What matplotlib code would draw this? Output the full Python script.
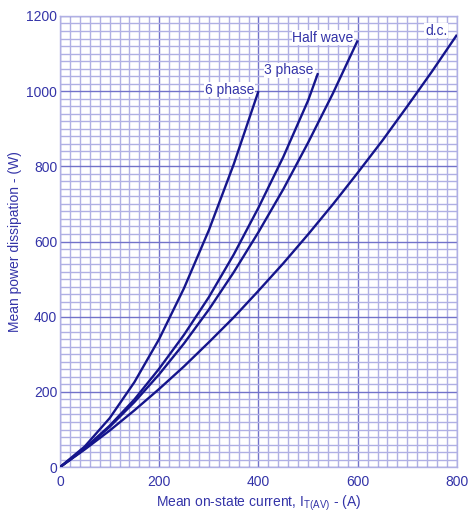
import numpy as np
import matplotlib
matplotlib.use("Agg")
import matplotlib.pyplot as plt
from matplotlib.ticker import MultipleLocator

plt.rcParams['font.family'] = ['Liberation Sans', 'DejaVu Sans']
plt.rcParams['mathtext.default'] = 'regular'

# values (current in A, power in W)
i_dc = [0, 50, 100, 150, 200, 250, 300, 350, 400, 450, 500, 550, 600, 650, 700, 750, 800]
p_dc = [0, 47, 97, 151, 208, 268, 332, 398, 469, 542, 619, 699, 783, 869, 960, 1053, 1150]

i_half = [0, 50, 100, 150, 200, 250, 300, 350, 400, 450, 500, 550, 600]
p_half = [0, 49, 107, 173, 247, 329, 419, 518, 625, 739, 863, 994, 1135]

i_3ph = [0, 50, 100, 150, 200, 250, 300, 350, 400, 450, 500, 520]
p_3ph = [0, 50, 110, 180, 262, 352, 452, 565, 690, 825, 975, 1048]

i_6ph = [0, 50, 100, 150, 200, 250, 300, 350, 400]
p_6ph = [0, 55, 130, 226, 341, 476, 630, 805, 1000]

labels = ["d.c.", "Half wave", "3 phase", "6 phase"]

line_col = '#15158c'
text_col = '#3434a8'

fig = plt.figure(figsize=(4.76, 5.15), dpi=100)
ax = fig.add_axes([0.126, 0.093, 0.834, 0.876])

curves = [(i_dc, p_dc), (i_half, p_half), (i_3ph, p_3ph), (i_6ph, p_6ph)]
offsets = [(-7, 3), (-3, 2), (-3, 2), (-3, 1)]
for (x, y), lab, off in zip(curves, labels, offsets):
    ax.plot(x, y, color=line_col, lw=1.7, solid_capstyle='butt', zorder=3)
    ax.annotate(lab, xy=(x[-1], y[-1]), xytext=off, textcoords='offset points',
                ha='right', va='center', color=text_col, fontsize=10, zorder=4,
                bbox=dict(boxstyle='square,pad=0.05', fc='white', ec='none'))

ax.set_xlim(0, 800)
ax.set_ylim(0, 1200)
ax.xaxis.set_major_locator(MultipleLocator(200))
ax.yaxis.set_major_locator(MultipleLocator(200))
ax.xaxis.set_minor_locator(MultipleLocator(20))
ax.yaxis.set_minor_locator(MultipleLocator(20))
ax.grid(which='minor', color='#b0b0e4', lw=1.0)
ax.grid(which='major', color='#7272ca', lw=1.0)
ax.set_axisbelow(True)

for s in ax.spines.values():
    s.set_color('#b0b0e4')
    s.set_linewidth(1.0)

ax.tick_params(which='both', length=0, colors=text_col, labelsize=10)
ax.tick_params(axis='x', pad=6)
ax.tick_params(axis='y', pad=2)
ax.get_yticklabels()[0].set_va('top')

ax.set_xlabel("Mean on-state current, I$_{T(AV)}$ - (A)", color=text_col, fontsize=10, labelpad=3)
ax.set_ylabel("Mean power dissipation - (W)", color=text_col, fontsize=10, labelpad=3)

fig.savefig("out.png", dpi=100)
